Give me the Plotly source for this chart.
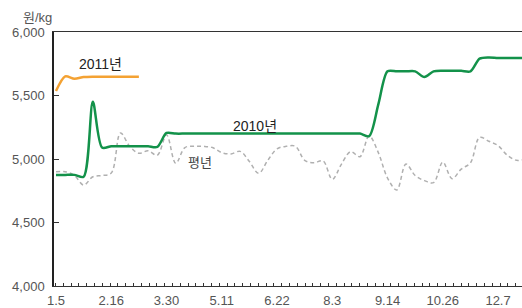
import plotly.graph_objects as go

# weekly index (0 = 1.5)
weeks = list(range(52))
tick_weeks = [0, 6, 12, 18, 24, 30, 36, 42, 48]
tick_labels = ["1.5", "2.16", "3.30", "5.11", "6.22", "8.3", "9.14", "10.26", "12.7"]

y2010 = [4875, 4875, 4875, 4860, 5450, 5090, 5100, 5100, 5100, 5100,
         5100, 5095, 5205, 5200, 5200, 5200, 5200, 5200, 5200, 5200,
         5200, 5200, 5200, 5200, 5200, 5200, 5200, 5200, 5200, 5200,
         5200, 5200, 5200, 5200, 5180, 5430, 5690, 5690, 5690, 5690,
         5645, 5690, 5695, 5695, 5695, 5690, 5790, 5800, 5795, 5795,
         5795, 5795]

y2011 = [5535, 5650, 5632, 5645, 5648, 5648, 5648, 5648, 5648, 5648]

y_avg = [4900, 4900, 4870, 4795, 4860, 4870, 4890, 5205, 5100, 5045,
         5065, 5030, 5190, 4966, 5090, 5100, 5100, 5090, 5050, 5040,
         5060, 4980, 4887, 4990, 5080, 5100, 5100, 4990, 4970, 4985,
         4840, 4960, 5058, 5018, 5181, 5050, 4850, 4756, 4960, 4870,
         4830, 4814, 4975, 4845, 4920, 4970, 5170, 5140, 5105, 5030,
         4990, 5000]

font_fam = "Liberation Sans, Noto Sans CJK KR, sans-serif"

fig = go.Figure()
fig.add_trace(go.Scatter(x=weeks, y=y_avg, mode="lines",
                         line=dict(color="#b0b0b0", width=1.5, dash="4px,3px", shape="spline", smoothing=1.0),
                         showlegend=False, hoverinfo="skip"))
fig.add_trace(go.Scatter(x=weeks, y=y2010, mode="lines",
                         line=dict(color="#13924a", width=2.5, shape="spline", smoothing=0.8),
                         showlegend=False))
fig.add_trace(go.Scatter(x=weeks[:len(y2011)], y=y2011, mode="lines",
                         line=dict(color="#f4a233", width=2.5, shape="spline", smoothing=0.8),
                         showlegend=False))

fig.update_layout(
    width=522, height=308,
    margin=dict(l=54, r=0, t=32, b=22),
    plot_bgcolor="white", paper_bgcolor="white",
    font=dict(family=font_fam, size=13, color="#555"),
    xaxis=dict(range=[-0.217, 50.6], tickmode="array", tickvals=tick_weeks, ticktext=tick_labels,
               ticks="", showline=True, linecolor="#333", linewidth=1, mirror=True,
               showgrid=False, zeroline=False, tickfont=dict(size=13, color="#555"),
               automargin=False, ticklabelstandoff=2,
               minor=dict(tickmode="linear", tick0=0.79, dtick=0.847, ticks="inside",
                          ticklen=3, tickcolor="#333", showgrid=False)),
    yaxis=dict(range=[4000, 6000], tickmode="array", tickvals=[4000, 4500, 5000, 5500, 6000],
               tickformat=",", ticks="inside", ticklen=5, tickcolor="#333",
               showline=True, linecolor="#222", linewidth=1.5, showgrid=False, zeroline=False,
               tickfont=dict(size=13, color="#555"), ticklabelstandoff=5, automargin=False),
    annotations=[
        dict(text="원/kg", x=(37 - 54) / 468, y=(286 - 17) / 254, xref="paper", yref="paper",
             showarrow=False, xanchor="center", yanchor="middle",
             font=dict(size=13, color="#555")),
        dict(text="2011년", x=4.8, y=5745, xref="x", yref="y", showarrow=False,
             font=dict(size=14, color="#222")),
        dict(text="2010년", x=21.6, y=5258, xref="x", yref="y", showarrow=False,
             font=dict(size=14, color="#222")),
        dict(text="평년", x=15.6, y=4970, xref="x", yref="y", showarrow=False,
             font=dict(size=13, color="#444")),
    ],
)

fig.write_html("out.html", config={"displayModeBar": False},
               post_script="document.body.style.margin='0';document.body.style.overflow='hidden';")
